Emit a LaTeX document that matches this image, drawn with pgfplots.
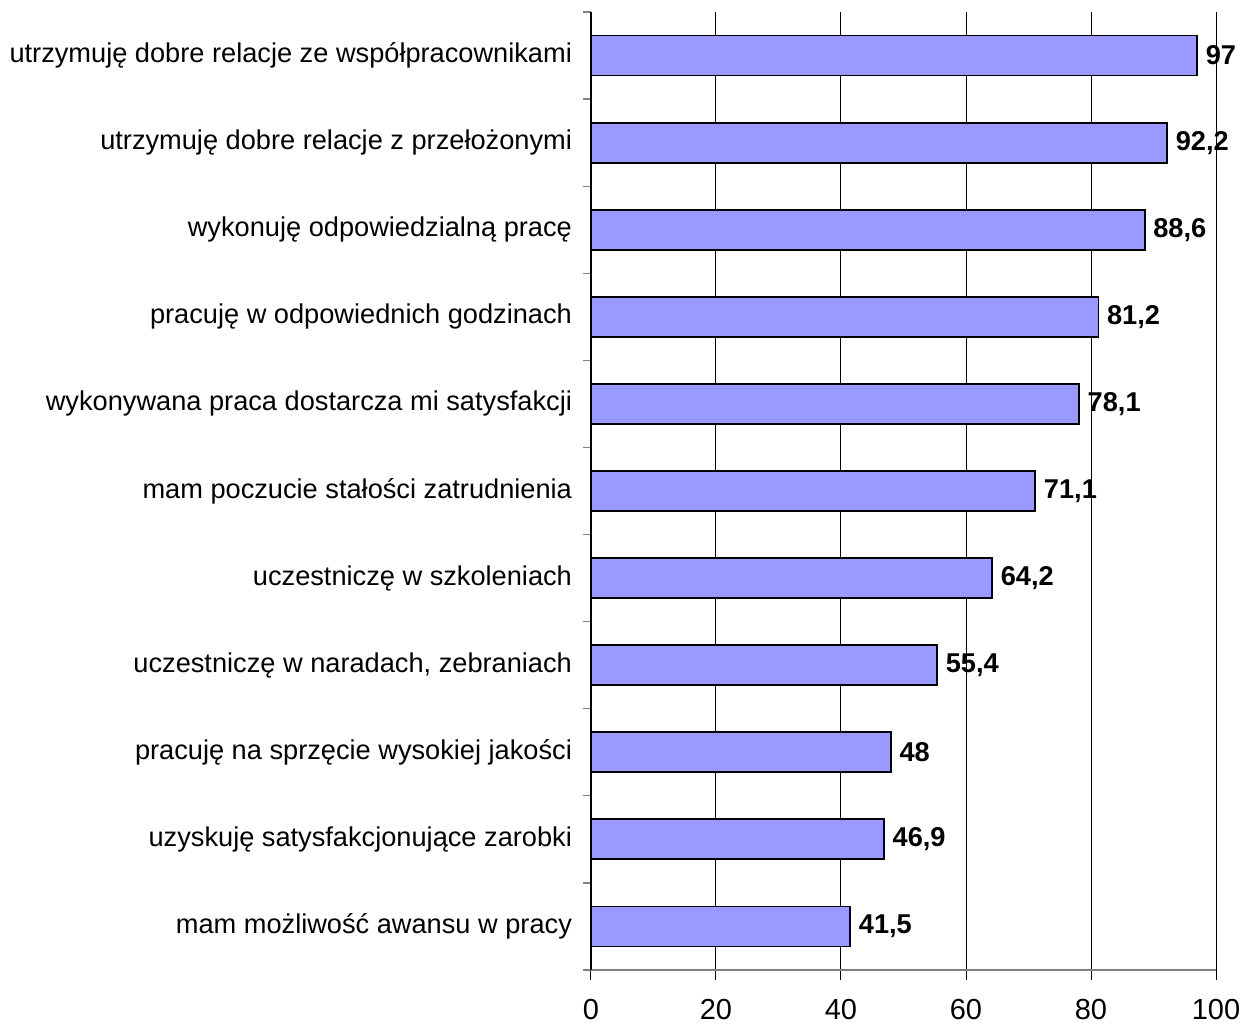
\documentclass[border=0pt]{standalone}
\usepackage{pgfplots}
\pgfplotsset{compat=1.18}
\usepackage{fontspec}
\setmainfont{Liberation Sans}
\definecolor{barfill}{HTML}{9999FF}
\definecolor{axgray}{HTML}{808080}
\begin{document}
\begin{tikzpicture}
\useasboundingbox (-295.5pt,-26.5pt) rectangle (325pt,485pt);
\begin{axis}[
  at={(0,0)}, anchor=south west,
  scale only axis,
  width=312.5pt, height=479pt,
  xbar, bar width=20pt,
  xmin=0, xmax=100,
  ymin=-0.5, ymax=10.5,
  xtick={0,20,...,100},
  ytick={0,...,10},
  yticklabels={mam możliwość awansu w pracy,uzyskuję satysfakcjonujące zarobki,pracuję na sprzęcie wysokiej jakości,{uczestniczę w naradach, zebraniach},uczestniczę w szkoleniach,mam poczucie stałości zatrudnienia,wykonywana praca dostarcza mi satysfakcji,pracuję w odpowiednich godzinach,wykonuję odpowiedzialną pracę,utrzymuję dobre relacje z przełożonymi,utrzymuję dobre relacje ze współpracownikami},
  minor ytick={-0.5,0.5,...,10.5},
  minor tick length=4pt,
  minor y tick style={axgray, line width=0.6pt},
  major y tick style={draw=none},
  axis x line*=bottom, axis y line*=left,
  x axis line style={axgray, line width=0.8pt, -},
  y axis line style={black, line width=0.6pt, -},
  major x tick style={black, line width=0.5pt},
  tick align=outside, major tick length=5pt,
  xmajorgrids, major x grid style={black, line width=0.5pt},
  /pgf/number format/assume math mode=true,
  yticklabel style={font=\fontsize{13.6}{16}\selectfont, xshift=-1pt},
  xticklabel style={font=\fontsize{14.5}{17}\selectfont, yshift=-6pt},
  nodes near coords={\pgfmathprintnumber[use comma,fixed]{\pgfplotspointmeta}},
  nodes near coords style={font=\bfseries\fontsize{13.6}{16}\selectfont, anchor=west, xshift=0.5pt},
  clip=false,
]
\addplot[fill=barfill, draw=black, line width=0.9pt] coordinates {
 (41.5,0) (46.9,1) (48,2) (55.4,3) (64.2,4) (71.1,5) (78.1,6) (81.2,7) (88.6,8) (92.2,9) (97,10)
};
\end{axis}
\end{tikzpicture}
\end{document}
